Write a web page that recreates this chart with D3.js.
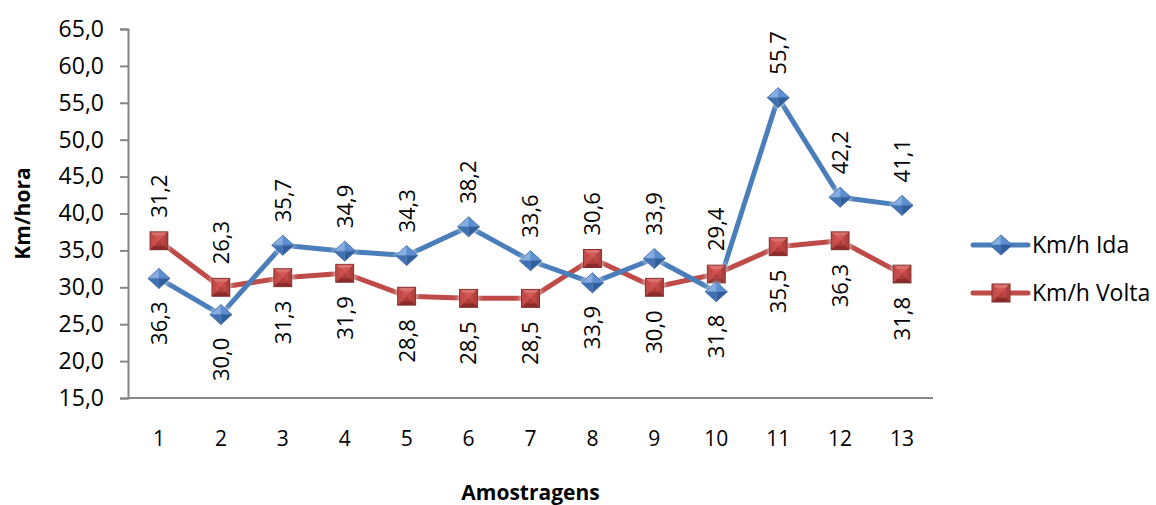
<!DOCTYPE html>
<html>
<head>
<meta charset="utf-8">
<script src="https://cdn.jsdelivr.net/npm/d3@7"></script>
<style>
  html, body { margin: 0; padding: 0; background: #fff; }
  svg { display: block; font-family: "Open Sans", "DejaVu Sans", sans-serif; }
</style>
</head>
<body>
<svg id="chart" width="1156" height="505"></svg>
<script>
// Amostragens (1..13)
const categories = ["1","2","3","4","5","6","7","8","9","10","11","12","13"];
// Velocidade média em km/h
const idaValues   = [31.2, 26.3, 35.7, 34.9, 34.3, 38.2, 33.6, 30.6, 33.9, 29.4, 55.7, 42.2, 41.1];
const voltaValues = [36.3, 30.0, 31.3, 31.9, 28.8, 28.5, 28.5, 33.9, 30.0, 31.8, 35.5, 36.3, 31.8];
const yTicks = [15, 20, 25, 30, 35, 40, 45, 50, 55, 60, 65];
const seriesNames = ["Km/h Ida", "Km/h Volta"];

const svg = d3.select("#chart");
const plot = { left: 128, right: 933, top: 29, bottom: 398 };

const x = d3.scaleBand().domain(categories).range([plot.left, plot.right]);
const y = d3.scaleLinear().domain([15, 65]).range([plot.bottom, plot.top]);
const cx = c => x(c) + x.bandwidth() / 2;
const fmt = v => d3.format(".1f")(v).replace(".", ",");

const axisColor = "#868686";
const blue = "#4A7EBB", red = "#BE4B48";

// soft white halo behind the markers
const defs = svg.append("defs");
const glow = defs.append("filter").attr("id", "halo").attr("x", "-60%").attr("y", "-60%").attr("width", "220%").attr("height", "220%");
glow.append("feGaussianBlur").attr("in", "SourceAlpha").attr("stdDeviation", 2.5).attr("result", "b");
glow.append("feFlood").attr("flood-color", "#ffffff").attr("flood-opacity", 0.9);
glow.append("feComposite").attr("in2", "b").attr("operator", "in").attr("result", "g");
const gm = glow.append("feMerge");
gm.append("feMergeNode").attr("in", "g");
gm.append("feMergeNode").attr("in", "SourceGraphic");

// --- Y axis
const yAxis = d3.axisLeft(y).tickValues(yTicks).tickSize(8).tickPadding(16).tickFormat(fmt);
const gy = svg.append("g").attr("transform", `translate(${plot.left},0)`).call(yAxis);
gy.select(".domain").attr("stroke", axisColor).attr("stroke-width", 2);
gy.selectAll(".tick line").attr("stroke", axisColor).attr("stroke-width", 2);
gy.selectAll(".tick text").attr("fill", "#000").style("font-size", "23px")
  .style("font-family", "'Open Sans', sans-serif");

// --- X axis (no tick marks)
const xAxis = d3.axisBottom(x).tickSize(0).tickPadding(33);
const gx = svg.append("g").attr("transform", `translate(0,${plot.bottom})`).call(xAxis);
gx.select(".domain").attr("stroke", axisColor).attr("stroke-width", 2).attr("d", `M${plot.left},0H${plot.right}`);
gx.selectAll(".tick text").attr("fill", "#000").style("font-size", "21px")
  .style("font-family", "'Open Sans', sans-serif");

// --- Axis titles
svg.append("text")
  .attr("transform", `translate(30,${(plot.top + plot.bottom) / 2}) rotate(-90)`)
  .attr("text-anchor", "middle")
  .style("font-size", "21px").style("font-weight", "bold")
  .text("Km/hora");
svg.append("text")
  .attr("x", (plot.left + plot.right) / 2).attr("y", 500)
  .attr("text-anchor", "middle")
  .style("font-size", "21px").style("font-weight", "bold")
  .text("Amostragens");

// --- marker drawing helpers (shaded facets)
function diamond(g) {
  const w = 11, h = 10;
  const facets = [
    [[0,0],[-w,0],[0,-h], "#86AEE0"],
    [[0,0],[0,-h],[w,0], "#5B8FD2"],
    [[0,0],[w,0],[0,h], "#2F5E9C"],
    [[0,0],[0,h],[-w,0], "#3F72B3"]
  ];
  facets.forEach(f => g.append("path")
    .attr("d", d3.line()([f[0], f[1], f[2]]) + "Z")
    .attr("fill", f[3]).attr("stroke", f[3]).attr("stroke-width", 0.6));
  g.append("path").attr("d", `M${-w},0L0,${-h}L${w},0L0,${h}Z`)
    .attr("fill", "none").attr("stroke", "#3B6CA8").attr("stroke-width", 0.8);
}
function square(g) {
  const r = 9, i = 5;
  g.append("rect").attr("x", -r).attr("y", -r).attr("width", 2 * r).attr("height", 2 * r)
    .attr("fill", "#A83B38");
  const facets = [
    [[-r,-r],[r,-r],[i,-i],[-i,-i], "#D9726E"],
    [[r,-r],[r,r],[i,i],[i,-i], "#AE3F3C"],
    [[r,r],[-r,r],[-i,i],[i,i], "#8A2B29"],
    [[-r,r],[-r,-r],[-i,-i],[-i,i], "#C24C49"]
  ];
  facets.forEach(f => g.append("path")
    .attr("d", d3.line()(f.slice(0, 4)) + "Z").attr("fill", f[4]));
  const inner = [
    [[0,0],[-i,-i],[i,-i], "#D65955"],
    [[0,0],[i,-i],[i,i], "#C34A47"],
    [[0,0],[i,i],[-i,i], "#B03E3B"],
    [[0,0],[-i,i],[-i,-i], "#CC514E"]
  ];
  inner.forEach(f => g.append("path")
    .attr("d", d3.line()([f[0], f[1], f[2]]) + "Z").attr("fill", f[3]));
  g.append("rect").attr("x", -r).attr("y", -r).attr("width", 2 * r).attr("height", 2 * r)
    .attr("fill", "none").attr("stroke", "#862C2A").attr("stroke-width", 1);
}

// --- series
const series = [
  { name: seriesNames[0], values: idaValues, color: blue, marker: diamond },
  { name: seriesNames[1], values: voltaValues, color: red, marker: square }
];
const line = d3.line().x((d, i) => cx(categories[i])).y(d => y(d));

[series[1], series[0]].forEach(s => {
  svg.append("path").datum(s.values).attr("d", line)
    .attr("fill", "none").attr("stroke", s.color).attr("stroke-width", 5)
    .attr("stroke-linejoin", "round");
});
[series[1], series[0]].forEach(s => {
  s.values.forEach((v, i) => {
    const g = svg.append("g").attr("transform", `translate(${cx(categories[i])},${y(v)})`)
      .attr("filter", "url(#halo)");
    s.marker(g);
  });
});

// --- data labels, rotated: Ida above the upper point, Volta below the lower point
const labelGap = 23;
categories.forEach((c, i) => {
  const yi = y(idaValues[i]), yv = y(voltaValues[i]);
  const top = Math.min(yi, yv), bottom = Math.max(yi, yv);
  svg.append("text")
    .attr("transform", `translate(${cx(c)},${top - labelGap}) rotate(-90)`)
    .attr("text-anchor", "start").attr("dy", "0.36em")
    .style("font-size", "22px")
    .text(fmt(idaValues[i]));
  svg.append("text")
    .attr("transform", `translate(${cx(c)},${bottom + labelGap}) rotate(-90)`)
    .attr("text-anchor", "end").attr("dy", "0.36em")
    .style("font-size", "22px")
    .text(fmt(voltaValues[i]));
});

// --- legend
const legend = svg.append("g").attr("transform", "translate(973,245)");
series.forEach((s, k) => {
  const g = legend.append("g").attr("transform", `translate(0,${k * 48})`);
  g.append("line").attr("x1", 0).attr("x2", 55).attr("y1", 0).attr("y2", 0)
    .attr("stroke", s.color).attr("stroke-width", 5).attr("stroke-linecap", "round");
  const m = g.append("g").attr("transform", "translate(28,0)");
  s.marker(m);
  g.append("text").attr("x", 59).attr("y", 0).attr("dy", "0.35em")
    .style("font-size", "23px").text(s.name);
});
</script>
</body>
</html>
